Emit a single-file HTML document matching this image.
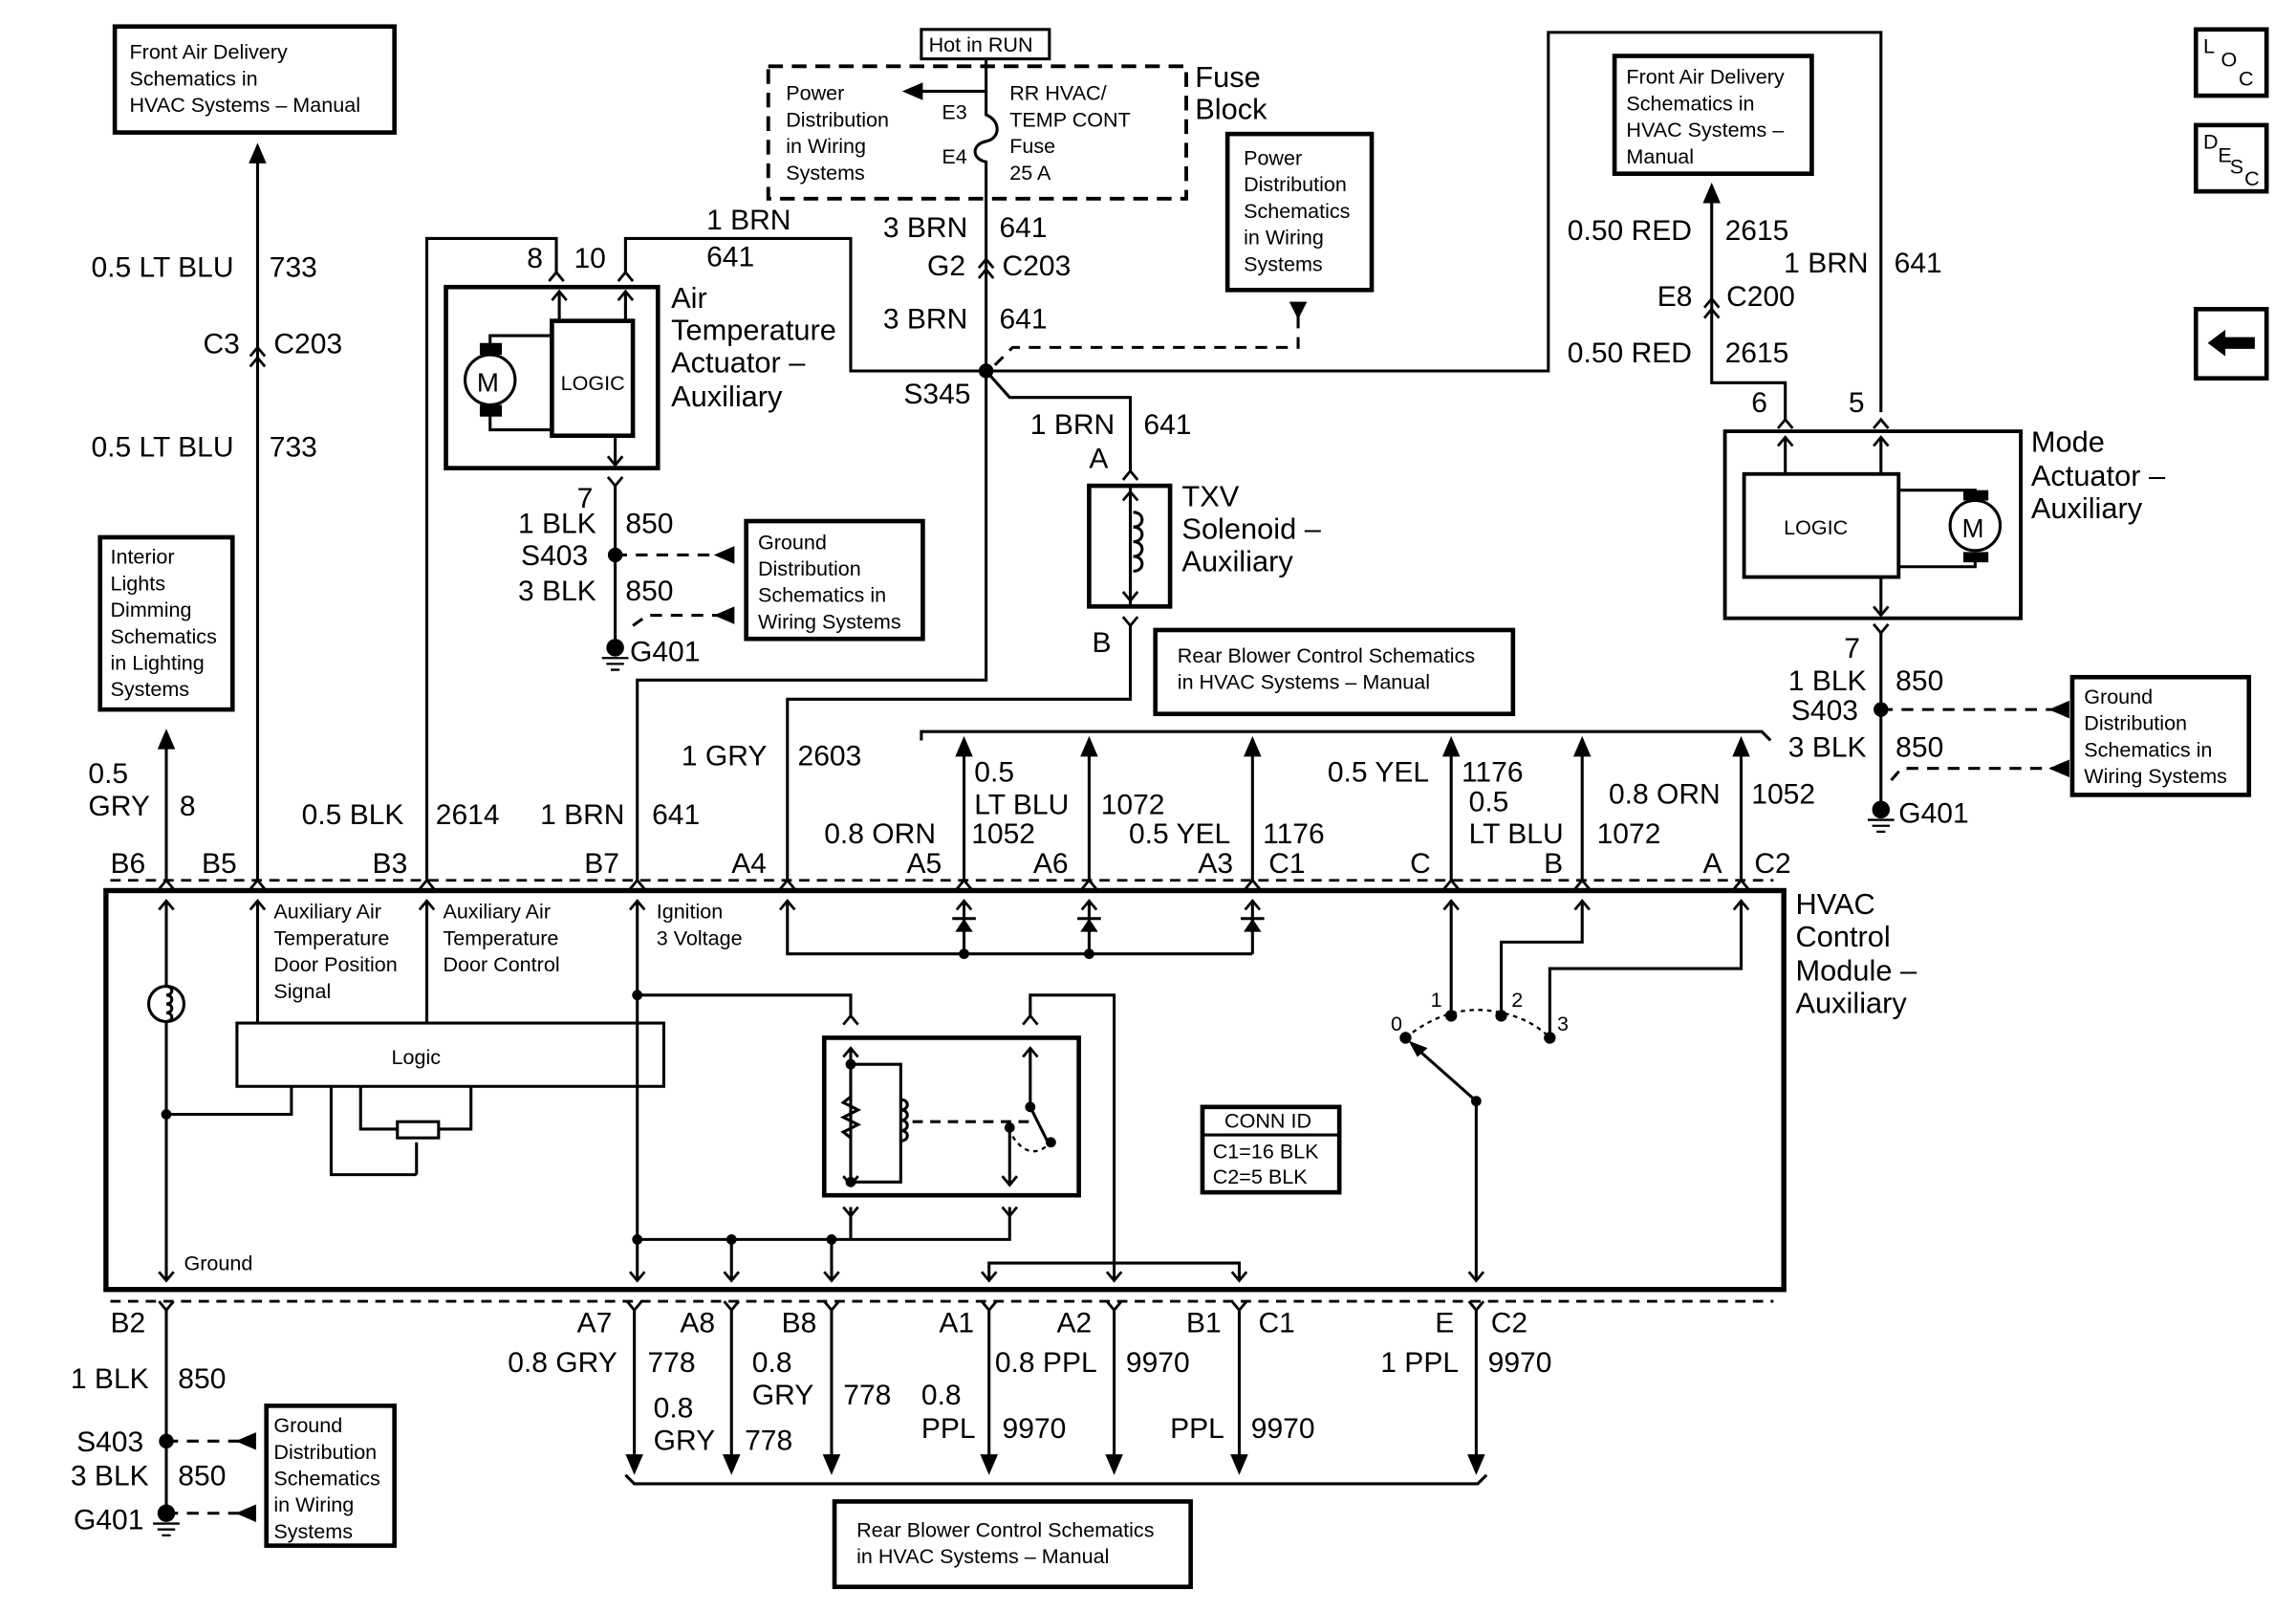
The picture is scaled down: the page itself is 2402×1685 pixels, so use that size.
<!DOCTYPE html>
<html><head><meta charset="utf-8"><style>
html,body{margin:0;padding:0;background:#fff}
svg{display:block}
text{font-family:"Liberation Sans Narrow","Liberation Sans",sans-serif;fill:#000}
.w{font-size:19.5px}
.s{font-size:14px}
.b{font-size:20px}
</style></head><body>
<svg width="2402" height="1685" viewBox="0 0 1560 1094.4" preserveAspectRatio="none" xmlns="http://www.w3.org/2000/svg">
<defs>
<path id="cu" d="M-5 6 L0 0 L5 6" fill="none" stroke="#000" stroke-width="1.8"/>
<path id="cd" d="M-5 -6 L0 0 L5 -6" fill="none" stroke="#000" stroke-width="1.8"/>
<path id="au" d="M-6 14 L0 0 L6 14 Z" fill="#000"/>
<path id="ad" d="M-6 -14 L0 0 L6 -14 Z" fill="#000"/>
<path id="al" d="M14 -6 L0 0 L14 6 Z" fill="#000"/>
<g id="gnd"><circle r="6" fill="#000"/><path d="M-9 7 H9 M-6 11 H6 M-3 15 H3" stroke="#000" stroke-width="1.5"/></g>
</defs>
<g fill="none" stroke="#000" stroke-width="2">
<rect x="78" y="18" width="190" height="72" stroke-width="3"/>
<path d="M175 108 V598"/>
<rect x="68" y="365" width="90" height="117" stroke-width="3"/>
<path d="M113 508 V598"/>
<path d="M290 598 V162 H378 V185"/>
<rect x="303" y="195" width="144" height="123" stroke-width="3"/>
<rect x="375" y="218" width="55" height="78" stroke-width="3"/>
<path d="M380 218 V198 M425 218 V198 M425 185 V162 H578 V252 H670"/>
<circle cx="333" cy="258" r="17"/>
<path d="M333 240 V228 H375 M333 276 V292 H375"/>
<path d="M418 296 V316 M418 330 V440"/>
<path d="M418 377 H490" stroke-dasharray="8 6"/>
<path d="M430 425 L440 418 H490" stroke-dasharray="8 6"/>
<rect x="507" y="354" width="120" height="80" stroke-width="3"/>
<path d="M433 598 V462 H670 V135"/>
<rect x="522" y="45" width="284" height="90" stroke-dasharray="10 6" stroke-width="2.5"/>
<rect x="626" y="20" width="87" height="20" stroke-width="2"/>
<path d="M670 40 V62 H625 M670 62 V78 C680 82 680 94 670 96 C660 98 660 108 670 110 V135"/>
<rect x="834" y="91" width="98" height="106" stroke-width="3"/>
<path d="M882 215 V236 H688 L676 248" stroke-dasharray="8 6"/>
<path d="M670 252 H1052 V22 H1278 V280"/>
<path d="M670 252 L686 270 H768 V320 M768 330 V412 M768 425 V475 H535 V598"/>
<rect x="740" y="330" width="55" height="82" stroke-width="3"/>
<path d="M768 340 V404"/>
<path d="M770 348 c8 0 8 10 0 10 c8 0 8 10 0 10 c8 0 8 10 0 10 c8 0 8 10 0 10"/>
<rect x="1097" y="38" width="134" height="80" stroke-width="3"/>
<path d="M1163 138 V260 H1213 V285"/>
<rect x="1172" y="293" width="201" height="127" stroke-width="2.5"/>
<rect x="1185" y="322" width="105" height="70" stroke-width="2.5"/>
<path d="M1213 322 V297 M1278 322 V297 M1278 392 V418 M1278 430 V550"/>
<circle cx="1342" cy="357" r="17"/>
<path d="M1290 333 H1342 V339 M1290 385 H1342 V375"/>
<path d="M1278 482 H1398" stroke-dasharray="8 6"/>
<path d="M1285 530 L1292 522 H1398" stroke-dasharray="8 6"/>
<rect x="1408" y="460" width="120" height="80" stroke-width="3"/>
<rect x="785" y="428" width="243" height="57" stroke-width="3"/>
<path d="M626 503 V497 H1197 L1203 503"/>
<path d="M655 512 V598 M740 512 V598 M851 512 V598 M986 512 V598 M1075 512 V598 M1183 512 V598"/>
<path d="M75 598 H1205" stroke-dasharray="7 5" stroke-width="1.8"/>
<path d="M75 884 H1205" stroke-dasharray="7 5" stroke-width="1.8"/>
<rect x="72" y="605" width="1140" height="271" stroke-width="3.5"/>
<path d="M113 612 V870"/>
<circle cx="113" cy="682" r="12" fill="#fff"/>
<path d="M113 670 c5 0 5 6 0 6 c5 0 5 6 0 6 c5 0 5 6 0 6 c5 0 5 6 0 6"/>
<path d="M113 757 H198 V738"/>
<path d="M175 612 V695 M290 612 V695"/>
<rect x="161" y="695" width="290" height="43" stroke-width="2"/>
<path d="M225 738 V798 H283 M245 738 V767 H270 M298 767 H320 V738"/>
<rect x="270" y="762" width="28" height="11"/>
<path d="M283 798 V776"/>
<path d="M433 612 V870 M433 676 H578 V690"/>
<path d="M535 612 V648 H851 M655 612 V648 M740 612 V648 M851 612 V648"/>
<path d="M647 624 H663 M732 624 H748 M843 624 H859"/>
<rect x="560" y="705" width="173" height="107" stroke-width="3"/>
<path d="M578 712 V805 M578 723 H612 V803 H578"/>
<path d="M578 745 l-5 4 l10 5 l-10 5 l10 5 l-10 5 l5 4"/>
<path d="M612 747 c6 0 6 7 0 7 c6 0 6 7 0 7 c6 0 6 7 0 7 c6 0 6 7 0 7"/>
<path d="M620 762 H700" stroke-dasharray="7 5"/>
<path d="M700 712 V752 L713 778"/>
<path d="M686 766 V805"/>
<path d="M688 772 Q700 790 714 776" stroke-dasharray="3 3" stroke-width="1.5"/>
<path d="M700 690 V676 H757 V870"/>
<path d="M578 820 V842 M686 820 V842 H433 M497 842 V870 M565 842 V870"/>
<path d="M672 870 V858 H842 V870"/>
<path d="M986 612 V690 M1020 690 V640 H1075 V612 M1053 705 V658 H1183 V612"/>
<path d="M955 705 Q986 680 1020 688 Q1040 692 1053 705" stroke-dasharray="3 3" stroke-width="1.5"/>
<path d="M1003 748 L960 710 M1003 748 V870"/>
<rect x="817" y="752" width="93" height="58" stroke-width="3"/>
<path d="M817 771 H910"/>
<path d="M113 890 V1028 M431 890 V998 M497 890 V998 M565 890 V998 M672 890 V998 M757 890 V998 M842 890 V998 M1003 890 V998"/>
<path d="M113 979 H172" stroke-dasharray="8 6"/>
<path d="M113 1028 H172" stroke-dasharray="8 6"/>
<rect x="181" y="955" width="87" height="95" stroke-width="3"/>
<path d="M425 1002 L431 1008 H1004 L1010 1002"/>
<rect x="567" y="1020" width="242" height="58" stroke-width="3"/>
<rect x="1492" y="20" width="48" height="45" stroke-width="3"/>
<rect x="1492" y="85" width="48" height="45" stroke-width="3"/>
<rect x="1492" y="210" width="48" height="47" stroke-width="3"/>
</g>
<g fill="#000">
<use href="#au" x="175" y="97"/><use href="#au" x="113" y="495"/>
<rect x="326" y="233" width="15" height="8"/><rect x="326" y="275" width="15" height="8"/>
<rect x="1334" y="333" width="17" height="7"/><rect x="1334" y="375" width="17" height="7"/>
<circle cx="418" cy="377" r="5"/><use href="#gnd" x="418" y="440"/>
<use href="#al" x="485" y="377"/><use href="#al" x="485" y="418"/>
<use href="#al" x="613" y="62"/>
<path d="M876 205 H888 L882 217 Z"/>
<circle cx="670" cy="252" r="5"/>
<use href="#au" x="1163" y="124"/>
<circle cx="1278" cy="482" r="5"/><use href="#gnd" x="1278" y="550"/>
<use href="#al" x="1392" y="482"/><use href="#al" x="1392" y="522"/>
<use href="#au" x="655" y="500"/><use href="#au" x="740" y="500"/><use href="#au" x="851" y="500"/>
<use href="#au" x="986" y="500"/><use href="#au" x="1075" y="500"/><use href="#au" x="1183" y="500"/>
<path d="M649 633 H661 L655 624 Z"/><path d="M734 633 H746 L740 624 Z"/><path d="M845 633 H857 L851 624 Z"/>
<circle cx="655" cy="648" r="3.5"/><circle cx="740" cy="648" r="3.5"/>
<circle cx="113" cy="757" r="3.5"/><circle cx="433" cy="676" r="3.5"/>
<circle cx="578" cy="723" r="3.5"/><circle cx="578" cy="803" r="3.5"/>
<circle cx="700" cy="752" r="3.5"/><circle cx="686" cy="766" r="3.5"/><circle cx="714" cy="776" r="3.5"/>
<circle cx="433" cy="842" r="3.5"/><circle cx="497" cy="842" r="3.5"/><circle cx="565" cy="842" r="3.5"/>
<circle cx="955" cy="705" r="4"/><circle cx="986" cy="690" r="4"/><circle cx="1020" cy="690" r="4"/><circle cx="1053" cy="705" r="4"/>
<circle cx="1003" cy="748" r="3.5"/>
<path d="M957 707 L970 712 L963 718 Z"/>
<use href="#ad" x="431" y="1002"/><use href="#ad" x="497" y="1002"/><use href="#ad" x="565" y="1002"/>
<use href="#ad" x="672" y="1002"/><use href="#ad" x="757" y="1002"/><use href="#ad" x="842" y="1002"/><use href="#ad" x="1003" y="1002"/>
<circle cx="113" cy="979" r="5"/><use href="#gnd" x="113" y="1028"/>
<use href="#al" x="160" y="979"/><use href="#al" x="160" y="1028"/>
<path d="M1500 233 L1512 224 V229 H1532 V237 H1512 V242 Z"/>
</g>
<g>
<use href="#cu" x="175" y="236"/><use href="#cu" x="175" y="243"/>
<use href="#cu" x="670" y="176"/><use href="#cu" x="670" y="183"/>
<use href="#cu" x="1163" y="203"/><use href="#cu" x="1163" y="210"/>
<use href="#cu" x="378" y="185"/><use href="#cu" x="425" y="185"/>
<use href="#cu" x="380" y="198"/><use href="#cu" x="425" y="198"/>
<use href="#cd" x="418" y="316"/><use href="#cd" x="418" y="330"/>
<use href="#cu" x="768" y="320"/><use href="#cu" x="768" y="334"/>
<use href="#cd" x="768" y="408"/><use href="#cd" x="768" y="425"/>
<use href="#cu" x="1213" y="285"/><use href="#cu" x="1278" y="285"/>
<use href="#cu" x="1213" y="297"/><use href="#cu" x="1278" y="297"/>
<use href="#cd" x="1278" y="418"/><use href="#cd" x="1278" y="430"/>
<use href="#cu" x="113" y="598"/><use href="#cu" x="175" y="598"/><use href="#cu" x="290" y="598"/><use href="#cu" x="433" y="598"/>
<use href="#cu" x="535" y="598"/><use href="#cu" x="655" y="598"/><use href="#cu" x="740" y="598"/><use href="#cu" x="851" y="598"/>
<use href="#cu" x="986" y="598"/><use href="#cu" x="1075" y="598"/><use href="#cu" x="1183" y="598"/>
<use href="#cu" x="113" y="612"/><use href="#cu" x="175" y="612"/><use href="#cu" x="290" y="612"/><use href="#cu" x="433" y="612"/>
<use href="#cu" x="535" y="612"/><use href="#cu" x="655" y="612"/><use href="#cu" x="740" y="612"/><use href="#cu" x="851" y="612"/>
<use href="#cu" x="986" y="612"/><use href="#cu" x="1075" y="612"/><use href="#cu" x="1183" y="612"/>
<use href="#cu" x="578" y="690"/><use href="#cu" x="700" y="690"/><use href="#cu" x="578" y="712"/><use href="#cu" x="700" y="712"/>
<use href="#cd" x="578" y="805"/><use href="#cd" x="686" y="805"/><use href="#cd" x="578" y="826"/><use href="#cd" x="686" y="826"/>
<use href="#cd" x="113" y="870"/><use href="#cd" x="433" y="870"/><use href="#cd" x="497" y="870"/><use href="#cd" x="565" y="870"/>
<use href="#cd" x="672" y="870"/><use href="#cd" x="757" y="870"/><use href="#cd" x="842" y="870"/><use href="#cd" x="1003" y="870"/>
<use href="#cd" x="113" y="890"/><use href="#cd" x="431" y="890"/><use href="#cd" x="497" y="890"/><use href="#cd" x="565" y="890"/>
<use href="#cd" x="672" y="890"/><use href="#cd" x="757" y="890"/><use href="#cd" x="842" y="890"/><use href="#cd" x="1003" y="890"/>
</g>
<g class="s">
<text x="88" y="40">Front Air Delivery</text><text x="88" y="58">Schematics in</text><text x="88" y="76">HVAC Systems – Manual</text>
<text x="75" y="383">Interior</text><text x="75" y="401">Lights</text><text x="75" y="419">Dimming</text><text x="75" y="437">Schematics</text><text x="75" y="455">in Lighting</text><text x="75" y="473">Systems</text>
<text x="381" y="265">LOGIC</text>
<text x="515" y="373">Ground</text><text x="515" y="391">Distribution</text><text x="515" y="409">Schematics in</text><text x="515" y="427">Wiring Systems</text>
<text x="631" y="35">Hot in RUN</text>
<text x="534" y="68">Power</text><text x="534" y="86">Distribution</text><text x="534" y="104">in Wiring</text><text x="534" y="122">Systems</text>
<text x="640" y="81">E3</text><text x="640" y="111">E4</text>
<text x="686" y="68">RR HVAC/</text><text x="686" y="86">TEMP CONT</text><text x="686" y="104">Fuse</text><text x="686" y="122">25 A</text>
<text x="845" y="112">Power</text><text x="845" y="130">Distribution</text><text x="845" y="148">Schematics</text><text x="845" y="166">in Wiring</text><text x="845" y="184">Systems</text>
<text x="1105" y="57">Front Air Delivery</text><text x="1105" y="75">Schematics in</text><text x="1105" y="93">HVAC Systems –</text><text x="1105" y="111">Manual</text>
<text x="1212" y="363">LOGIC</text>
<text x="1416" y="478">Ground</text><text x="1416" y="496">Distribution</text><text x="1416" y="514">Schematics in</text><text x="1416" y="532">Wiring Systems</text>
<text x="800" y="450">Rear Blower Control Schematics</text><text x="800" y="468">in HVAC Systems – Manual</text>
<text x="186" y="624">Auxiliary Air</text><text x="186" y="642">Temperature</text><text x="186" y="660">Door Position</text><text x="186" y="678">Signal</text>
<text x="301" y="624">Auxiliary Air</text><text x="301" y="642">Temperature</text><text x="301" y="660">Door Control</text>
<text x="446" y="624">Ignition</text><text x="446" y="642">3 Voltage</text>
<text x="266" y="723">Logic</text>
<text x="125" y="863">Ground</text>
<text x="832" y="766">CONN ID</text><text x="824" y="787">C1=16 BLK</text><text x="824" y="804">C2=5 BLK</text>
<text x="945" y="700">0</text><text x="972" y="684">1</text><text x="1027" y="684">2</text><text x="1058" y="700">3</text>
<text x="186" y="973">Ground</text><text x="186" y="991">Distribution</text><text x="186" y="1009">Schematics</text><text x="186" y="1027">in Wiring</text><text x="186" y="1045">Systems</text>
<text x="582" y="1044">Rear Blower Control Schematics</text><text x="582" y="1062">in HVAC Systems – Manual</text>
<text x="1497" y="36">L</text><text x="1509" y="45">O</text><text x="1521" y="58">C</text>
<text x="1497" y="101">D</text><text x="1507" y="110">E</text><text x="1515" y="118">S</text><text x="1525" y="126">C</text>
</g>
<g class="w">
<text x="62" y="188">0.5 LT BLU</text><text x="183" y="188">733</text>
<text x="138" y="240">C3</text><text x="186" y="240">C203</text>
<text x="62" y="310">0.5 LT BLU</text><text x="183" y="310">733</text>
<text x="358" y="182">8</text><text x="390" y="182">10</text>
<text x="480" y="156">1 BRN</text><text x="480" y="181">641</text>
<text x="392" y="345">7</text>
<text x="352" y="362">1 BLK</text><text x="425" y="362">850</text>
<text x="354" y="384">S403</text>
<text x="352" y="408">3 BLK</text><text x="425" y="408">850</text>
<text x="428" y="449">G401</text>
<text x="600" y="161">3 BRN</text><text x="679" y="161">641</text>
<text x="630" y="187">G2</text><text x="681" y="187">C203</text>
<text x="600" y="223">3 BRN</text><text x="679" y="223">641</text>
<text x="614" y="274">S345</text>
<text x="700" y="295">1 BRN</text><text x="777" y="295">641</text>
<text x="740" y="318">A</text><text x="742" y="443">B</text>
<text x="1065" y="163">0.50 RED</text><text x="1172" y="163">2615</text>
<text x="1126" y="208">E8</text><text x="1173" y="208">C200</text>
<text x="1065" y="246">0.50 RED</text><text x="1172" y="246">2615</text>
<text x="1212" y="185">1 BRN</text><text x="1287" y="185">641</text>
<text x="1190" y="280">6</text><text x="1256" y="280">5</text>
<text x="1253" y="447">7</text>
<text x="1215" y="469">1 BLK</text><text x="1288" y="469">850</text>
<text x="1217" y="489">S403</text>
<text x="1215" y="514">3 BLK</text><text x="1288" y="514">850</text>
<text x="1290" y="559">G401</text>
<text x="60" y="532">0.5</text><text x="60" y="554">GRY</text><text x="122" y="554">8</text>
<text x="205" y="560">0.5 BLK</text><text x="296" y="560">2614</text>
<text x="367" y="560">1 BRN</text><text x="443" y="560">641</text>
<text x="463" y="520">1 GRY</text><text x="542" y="520">2603</text>
<text x="560" y="573">0.8 ORN</text><text x="660" y="573">1052</text>
<text x="662" y="531">0.5</text><text x="662" y="553">LT BLU</text><text x="748" y="553">1072</text>
<text x="767" y="573">0.5 YEL</text><text x="858" y="573">1176</text>
<text x="902" y="531">0.5 YEL</text><text x="993" y="531">1176</text>
<text x="998" y="551">0.5</text><text x="998" y="573">LT BLU</text><text x="1085" y="573">1072</text>
<text x="1093" y="546">0.8 ORN</text><text x="1190" y="546">1052</text>
<text x="75" y="593">B6</text><text x="137" y="593">B5</text><text x="253" y="593">B3</text><text x="397" y="593">B7</text>
<text x="497" y="593">A4</text><text x="616" y="593">A5</text><text x="702" y="593">A6</text><text x="814" y="593">A3</text>
<text x="862" y="593">C1</text><text x="958" y="593">C</text><text x="1049" y="593">B</text><text x="1157" y="593">A</text><text x="1192" y="593">C2</text>
<text x="75" y="905">B2</text><text x="392" y="905">A7</text><text x="462" y="905">A8</text><text x="531" y="905">B8</text>
<text x="638" y="905">A1</text><text x="718" y="905">A2</text><text x="806" y="905">B1</text><text x="855" y="905">C1</text>
<text x="975" y="905">E</text><text x="1013" y="905">C2</text>
<text x="48" y="943">1 BLK</text><text x="121" y="943">850</text>
<text x="52" y="986">S403</text>
<text x="48" y="1009">3 BLK</text><text x="121" y="1009">850</text>
<text x="50" y="1039">G401</text>
<text x="345" y="932">0.8 GRY</text><text x="440" y="932">778</text>
<text x="444" y="963">0.8</text><text x="444" y="985">GRY</text><text x="506" y="985">778</text>
<text x="511" y="932">0.8</text><text x="511" y="954">GRY</text><text x="573" y="954">778</text>
<text x="626" y="954">0.8</text><text x="626" y="977">PPL</text><text x="681" y="977">9970</text>
<text x="676" y="932">0.8 PPL</text><text x="765" y="932">9970</text>
<text x="795" y="977">PPL</text><text x="850" y="977">9970</text>
<text x="938" y="932">1 PPL</text><text x="1011" y="932">9970</text>
</g>
<g class="b">
<text x="812" y="59">Fuse</text><text x="812" y="81">Block</text>
<text x="456" y="209">Air</text><text x="456" y="231">Temperature</text><text x="456" y="253">Actuator –</text><text x="456" y="276">Auxiliary</text>
<text x="803" y="344">TXV</text><text x="803" y="366">Solenoid –</text><text x="803" y="388">Auxiliary</text>
<text x="1380" y="307">Mode</text><text x="1380" y="330">Actuator –</text><text x="1380" y="352">Auxiliary</text>
<text x="1220" y="621">HVAC</text><text x="1220" y="643">Control</text><text x="1220" y="666">Module –</text><text x="1220" y="688">Auxiliary</text>
<text x="1333" y="365" font-size="18">M</text><text x="324" y="266" font-size="18">M</text>
</g>
</svg>
</body></html>
